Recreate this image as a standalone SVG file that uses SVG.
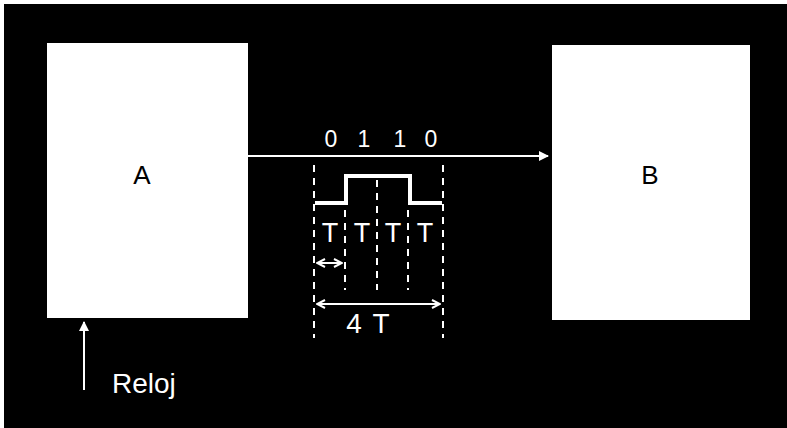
<svg xmlns="http://www.w3.org/2000/svg" width="787" height="428" viewBox="0 0 787 428">
<defs>
<style>
.box{fill:#fff;stroke:none}
.lbl{font-family:"Liberation Sans",Arial,sans-serif;fill:#000;font-size:26px;text-anchor:middle}
.wt{font-family:"Liberation Sans",Arial,sans-serif;fill:#fff;text-anchor:middle}
.ws{font-family:"Liberation Sans",Arial,sans-serif;fill:#fff;text-anchor:start}
.ln{stroke:#fff;stroke-width:2;fill:none}
.dash{stroke:#fff;stroke-width:2;fill:none;stroke-dasharray:7 6}
</style>
<marker id="ah" viewBox="0 0 10 10" refX="9" refY="5" markerWidth="5" markerHeight="5" orient="auto-start-reverse">
<path d="M0,0 L10,5 L0,10 z" fill="#fff"/>
</marker>
<marker id="oh" viewBox="0 0 10 10" refX="9" refY="5" markerWidth="5" markerHeight="5" orient="auto-start-reverse">
<path d="M1,1 L9,5 L1,9" fill="none" stroke="#fff" stroke-width="2"/>
</marker>
</defs>
<rect x="0" y="0" width="787" height="428" fill="#000"/>
<rect x="0" y="0" width="787" height="4" fill="#fff"/>
<rect x="0" y="0" width="4" height="428" fill="#fff"/>

<g id="nodeA">
<rect class="box" x="47" y="43" width="201" height="275"/>
<text class="lbl" x="142" y="184">A</text>
</g>
<g id="nodeB">
<rect class="box" x="552" y="45" width="198" height="275"/>
<text class="lbl" x="650" y="184">B</text>
</g>

<g id="connectors">
<line class="ln" x1="248" y1="156" x2="548" y2="156" marker-end="url(#ah)"/>
<line class="ln" x1="84" y1="390" x2="84" y2="322" marker-end="url(#ah)"/>
</g>

<g id="signal">
<text class="wt" font-size="23" x="331" y="147">0</text>
<text class="wt" font-size="23" x="364" y="147">1</text>
<text class="wt" font-size="23" x="400" y="147">1</text>
<text class="wt" font-size="23" x="431" y="147">0</text>
<polyline points="315,203 346,203 346,176 410,176 410,203 442,203" fill="none" stroke="#fff" stroke-width="4"/>
<line class="dash" x1="314" y1="165" x2="314" y2="338"/>
<line class="dash" x1="443" y1="165" x2="443" y2="338"/>
<line class="dash" x1="345" y1="210" x2="345" y2="290"/>
<line class="dash" x1="377" y1="180" x2="377" y2="290"/>
<line class="dash" x1="408" y1="210" x2="408" y2="290"/>
<text class="wt" font-size="27" x="330" y="242">T</text>
<text class="wt" font-size="27" x="362" y="242">T</text>
<text class="wt" font-size="27" x="393" y="242">T</text>
<text class="wt" font-size="27" x="425" y="242">T</text>
<line class="ln" x1="317" y1="263" x2="342" y2="263" marker-start="url(#oh)" marker-end="url(#oh)"/>
<line class="ln" x1="317" y1="304" x2="440" y2="304" marker-start="url(#oh)" marker-end="url(#oh)"/>
<text class="wt" font-size="28" x="354" y="333">4</text>
<text class="wt" font-size="28" x="381" y="333">T</text>
</g>

<g id="clock">
<text class="ws" font-size="28" x="112" y="393">Reloj</text>
</g>
</svg>
